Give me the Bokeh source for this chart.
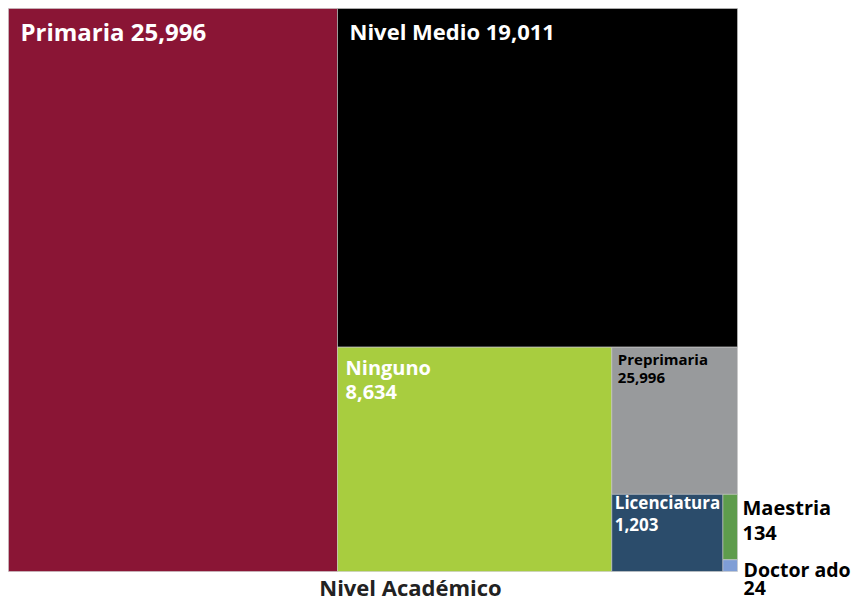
from bokeh.plotting import figure
from bokeh.models import Range1d, Label, ColumnDataSource
from bokeh.embed import file_html
from bokeh.resources import INLINE

# ---- data ----
categories = ["Primaria", "Nivel Medio", "Ninguno", "Preprimaria", "Licenciatura", "Maestria", "Doctorado"]
values = [25996, 19011, 8634, 2596, 1203, 134, 24]
value_labels = ["25,996", "19,011", "8,634", "25,996", "1,203", "134", "24"]
name_labels = ["Primaria", "Nivel Medio", "Ninguno", "Preprimaria", "Licenciatura", "Maestria", "Doctor ado"]
colors = ["#8A1535", "#000000", "#A8CD3F", "#989A9C", "#2B4C6B", "#5E9C4C", "#7F9ED6"]
title_text = "Nivel Académico"

W, H = 729.0, 563.0


def worst(row, short):
    s = sum(row)
    return max(max(short * short * r / (s * s), (s * s) / (short * short * r)) for r in row)


def squarify(vals, x, y, w, h):
    total = sum(vals)
    areas = [v * w * h / total for v in vals]
    rects = []
    i, n = 0, len(areas)
    while i < n:
        short = min(w, h)
        row = [areas[i]]
        j = i + 1
        while j < n and worst(row + [areas[j]], short) <= worst(row, short):
            row.append(areas[j])
            j += 1
        s = sum(row)
        if w >= h:
            cw = s / h
            yy = y
            for a in row:
                rh = a / cw
                rects.append((x, yy, cw, rh))
                yy += rh
            x += cw
            w -= cw
        else:
            rh = s / w
            xx = x
            for a in row:
                rw = a / rh
                rects.append((xx, y, rw, rh))
                xx += rw
            y += rh
            h -= rh
        i = j
    return rects


rects = squarify(values, 0.0, 0.0, W, H)
left = [r[0] for r in rects]
right = [r[0] + r[2] for r in rects]
top = [H - r[1] for r in rects]
bottom = [H - r[1] - r[3] for r in rects]

src = ColumnDataSource(dict(left=left, right=right, top=top, bottom=bottom, color=colors))

FIG_W, FIG_H = 853, 602
p = figure(width=FIG_W, height=FIG_H, output_backend="svg", toolbar_location=None,
           x_range=Range1d(-8, FIG_W - 8), y_range=Range1d(-(FIG_H - 8 - H), H + 8),
           min_border_left=0, min_border_top=0, min_border_right=0, min_border_bottom=0)
p.axis.visible = False
p.grid.visible = False
p.outline_line_color = None
p.background_fill_color = "white"
p.border_fill_color = "white"

p.quad(left="left", right="right", top="top", bottom="bottom", fill_color="color",
       line_color="#c8c8c8", line_width=0.6, source=src)

FONT = "Open Sans"


def add_label(x, y, text, size, color):
    # 1 data unit == 1 screen pixel on both axes
    p.add_layout(Label(x=x, y=y, text=text,
                       text_font=FONT, text_font_style="bold",
                       text_font_size=f"{size}px", text_color=color,
                       text_baseline="top", text_align="left"))


styles = {
    0: dict(size=24, color="white", dx=12, dy=6, gap=0, one_line=True),
    1: dict(size=22, color="white", dx=12, dy=7, gap=0, one_line=True),
    2: dict(size=20, color="white", dx=8, dy=6.5, gap=31, one_line=False),
    3: dict(size=15, color="black", dx=6, dy=2, gap=24, one_line=False),
    4: dict(size=17, color="white", dx=3, dy=-3, gap=27, one_line=False),
}

for i, st in styles.items():
    x0 = left[i] + st["dx"]
    y0 = top[i] - st["dy"]
    if st["one_line"]:
        add_label(x0, y0, name_labels[i] + " " + value_labels[i], st["size"], st["color"])
    else:
        add_label(x0, y0, name_labels[i], st["size"], st["color"])
        add_label(x0, y0 - st["gap"], value_labels[i], st["size"], st["color"])

# outside labels for the two smallest tiles
outside = {5: dict(dx=5, dy=0, gap=32, size=20), 6: dict(dx=6, dy=-4, gap=25, size=19.5)}
for i, st in outside.items():
    x0 = right[i] + st["dx"]
    y0 = top[i] - st["dy"]
    add_label(x0, y0, name_labels[i], st["size"], "black")
    add_label(x0, y0 - st["gap"], value_labels[i], st["size"], "black")

p.add_layout(Label(x=402, y=0, text=title_text, text_font=FONT,
                   text_font_style="bold", text_font_size="22px", text_color="#222222",
                   text_baseline="top", text_align="center"))

open("out.html", "w").write(file_html(p, INLINE))
